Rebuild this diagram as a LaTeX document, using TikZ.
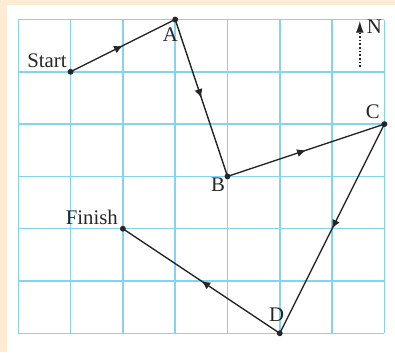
\documentclass[tikz,border=0pt]{standalone}
\usepackage{fontspec}
\setmainfont{Liberation Serif}
\usetikzlibrary{arrows.meta,decorations.markings,calc}
\definecolor{beige}{HTML}{FDEBD3}
\definecolor{gridblue}{HTML}{86D2F2}
\definecolor{ink}{HTML}{262626}
\tikzset{
  gridline/.style={gridblue, line width=0.8pt},
  leg/.style={ink, line width=0.75pt, postaction={decorate},
    decoration={markings, mark=at position 0.5 with {\arrow{Latex[length=4.8pt,width=4.4pt]}}}},
  pt/.style={circle, fill=ink, inner sep=0pt, minimum size=3.2pt},
  lbl/.style={font=\fontsize{11.3}{13}\selectfont, text=ink, inner sep=0pt},
}
\begin{document}
\begin{tikzpicture}
\useasboundingbox (-0.350,-0.358) rectangle (7.203,6.373);
\fill[beige] (-0.350,-0.358) rectangle (7.203,6.373);
\fill[white] (-0.216,-0.358) rectangle (7.203,6.277);
\draw[gridline] (0,0) grid (7,6);
\node[pt] (S) at (1,5) {};
\node[pt] (A) at (3,6) {};
\node[pt] (B) at (4,3) {};
\node[pt] (C) at (7,4) {};
\node[pt] (D) at (5,0) {};
\node[pt] (F) at (2,2) {};
\draw[leg] (S.center) -- (A.center);
\draw[leg] (A.center) -- (B.center);
\draw[leg] (B.center) -- (C.center);
\draw[leg] (C.center) -- (D.center);
\draw[leg] (D.center) -- (F.center);
\node[lbl, anchor=base east] (Sl) at (0.93,5.09) {Start};
\node[lbl, anchor=base] (Al) at (2.91,5.57) {A};
\node[lbl, anchor=base] (Bl) at (3.82,2.71) {B};
\node[lbl, anchor=base] (Cl) at (6.78,4.10) {C};
\node[lbl, anchor=base] (Dl) at (4.94,0.22) {D};
\node[lbl, anchor=base east] (Fl) at (1.91,2.08) {Finish};
\coordinate (Nb) at (6.53,5.09);
\coordinate (Nt) at (6.53,5.96);
\draw[ink, line width=1pt, dash pattern=on 0.9pt off 1.1pt] (Nb) -- ($(Nt)+(0,-0.22)$);
\draw[ink, line width=0.01pt, -{Latex[length=6pt,width=4pt]}] ($(Nt)+(0,-0.22)$) -- (Nt);
\node[lbl, anchor=base west] (Nl) at (6.66,5.74) {N};
\end{tikzpicture}
\end{document}
